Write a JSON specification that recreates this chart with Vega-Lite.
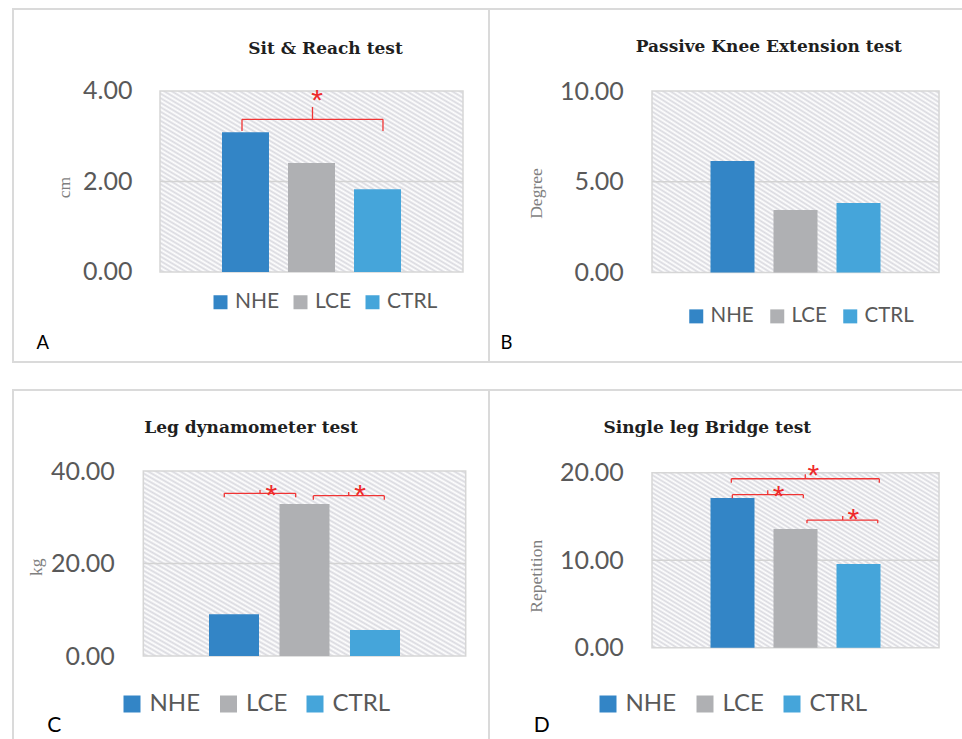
{
  "$schema": "https://vega.github.io/schema/vega-lite/v6.json",
  "background": "white",
  "padding": {"left": 12, "top": 8, "right": 0, "bottom": 0},
  "columns": 2,
  "spacing": {"row": 28, "column": 0},
  "bounds": "flush",
  "resolve": {"scale": {"color": "independent"}},
  "config": {"view": {"stroke": "#dadada", "strokeWidth": 2, "fill": "white"}, "font": "Lato"},
  "concat": [
    {
      "width": 476, "height": 353,
      "title": {"text": "Sit & Reach test", "font": "DejaVu Serif", "fontSize": 17, "fontWeight": "bold", "color": "#1f1f1f", "anchor": "middle", "frame": "group", "offset": 0, "baseline": "alphabetic", "dx": 74.5, "dy": 62},
      "resolve": {"scale": {"x": "independent"}},
      "encoding": {
        "y": {"field": "v", "type": "quantitative", "scale": {"domain": [-1.989, 5.812], "nice": false},
              "axis": {"values": [0, 2, 4], "format": ".2f", "ticks": false, "tickSize": 0, "domain": false, "grid": false, "labelPadding": 0, "offset": -119, "labelFont": "Lato", "labelFontSize": 25, "labelColor": "#595959", "labelAlign": "right", "labelBaseline": "middle",
                       "title": "cm", "titleFont": "Liberation Serif", "titleFontSize": 17.5, "titleFontWeight": "normal", "titleColor": "#7f7f7f", "titleAngle": 270, "titleX": -63, "titleY": 178, "titleAlign": "center", "titleBaseline": "alphabetic"}}
      },
      "layer": [
        {"data": {"values": [{"x1": -0.2955, "x2": 4.2955, "v": 0, "v2": 4}]},
         "mark": {"type": "rect", "stroke": "#d6d6d6", "strokeWidth": 1.5,
          "fill": {"gradient": "linear", "x1": 0, "y1": 1, "x2": 1, "y2": 0, "stops": [
          {"offset": 0, "color": "#ffffff"}, {"offset": 0.00625, "color": "#d9d9df"}, {"offset": 0.0125, "color": "#ffffff"}, {"offset": 0.01875, "color": "#d9d9df"},
          {"offset": 0.025, "color": "#ffffff"}, {"offset": 0.03125, "color": "#d9d9df"}, {"offset": 0.0375, "color": "#ffffff"}, {"offset": 0.04375, "color": "#d9d9df"},
          {"offset": 0.05, "color": "#ffffff"}, {"offset": 0.05625, "color": "#d9d9df"}, {"offset": 0.0625, "color": "#ffffff"}, {"offset": 0.06875, "color": "#d9d9df"},
          {"offset": 0.075, "color": "#ffffff"}, {"offset": 0.08125, "color": "#d9d9df"}, {"offset": 0.0875, "color": "#ffffff"}, {"offset": 0.09375, "color": "#d9d9df"},
          {"offset": 0.1, "color": "#ffffff"}, {"offset": 0.10625, "color": "#d9d9df"}, {"offset": 0.1125, "color": "#ffffff"}, {"offset": 0.11875, "color": "#d9d9df"},
          {"offset": 0.125, "color": "#ffffff"}, {"offset": 0.13125, "color": "#d9d9df"}, {"offset": 0.1375, "color": "#ffffff"}, {"offset": 0.14375, "color": "#d9d9df"},
          {"offset": 0.15, "color": "#ffffff"}, {"offset": 0.15625, "color": "#d9d9df"}, {"offset": 0.1625, "color": "#ffffff"}, {"offset": 0.16875, "color": "#d9d9df"},
          {"offset": 0.175, "color": "#ffffff"}, {"offset": 0.18125, "color": "#d9d9df"}, {"offset": 0.1875, "color": "#ffffff"}, {"offset": 0.19375, "color": "#d9d9df"},
          {"offset": 0.2, "color": "#ffffff"}, {"offset": 0.20625, "color": "#d9d9df"}, {"offset": 0.2125, "color": "#ffffff"}, {"offset": 0.21875, "color": "#d9d9df"},
          {"offset": 0.225, "color": "#ffffff"}, {"offset": 0.23125, "color": "#d9d9df"}, {"offset": 0.2375, "color": "#ffffff"}, {"offset": 0.24375, "color": "#d9d9df"},
          {"offset": 0.25, "color": "#ffffff"}, {"offset": 0.25625, "color": "#d9d9df"}, {"offset": 0.2625, "color": "#ffffff"}, {"offset": 0.26875, "color": "#d9d9df"},
          {"offset": 0.275, "color": "#ffffff"}, {"offset": 0.28125, "color": "#d9d9df"}, {"offset": 0.2875, "color": "#ffffff"}, {"offset": 0.29375, "color": "#d9d9df"},
          {"offset": 0.3, "color": "#ffffff"}, {"offset": 0.30625, "color": "#d9d9df"}, {"offset": 0.3125, "color": "#ffffff"}, {"offset": 0.31875, "color": "#d9d9df"},
          {"offset": 0.325, "color": "#ffffff"}, {"offset": 0.33125, "color": "#d9d9df"}, {"offset": 0.3375, "color": "#ffffff"}, {"offset": 0.34375, "color": "#d9d9df"},
          {"offset": 0.35, "color": "#ffffff"}, {"offset": 0.35625, "color": "#d9d9df"}, {"offset": 0.3625, "color": "#ffffff"}, {"offset": 0.36875, "color": "#d9d9df"},
          {"offset": 0.375, "color": "#ffffff"}, {"offset": 0.38125, "color": "#d9d9df"}, {"offset": 0.3875, "color": "#ffffff"}, {"offset": 0.39375, "color": "#d9d9df"},
          {"offset": 0.4, "color": "#ffffff"}, {"offset": 0.40625, "color": "#d9d9df"}, {"offset": 0.4125, "color": "#ffffff"}, {"offset": 0.41875, "color": "#d9d9df"},
          {"offset": 0.425, "color": "#ffffff"}, {"offset": 0.43125, "color": "#d9d9df"}, {"offset": 0.4375, "color": "#ffffff"}, {"offset": 0.44375, "color": "#d9d9df"},
          {"offset": 0.45, "color": "#ffffff"}, {"offset": 0.45625, "color": "#d9d9df"}, {"offset": 0.4625, "color": "#ffffff"}, {"offset": 0.46875, "color": "#d9d9df"},
          {"offset": 0.475, "color": "#ffffff"}, {"offset": 0.48125, "color": "#d9d9df"}, {"offset": 0.4875, "color": "#ffffff"}, {"offset": 0.49375, "color": "#d9d9df"},
          {"offset": 0.5, "color": "#ffffff"}, {"offset": 0.50625, "color": "#d9d9df"}, {"offset": 0.5125, "color": "#ffffff"}, {"offset": 0.51875, "color": "#d9d9df"},
          {"offset": 0.525, "color": "#ffffff"}, {"offset": 0.53125, "color": "#d9d9df"}, {"offset": 0.5375, "color": "#ffffff"}, {"offset": 0.54375, "color": "#d9d9df"},
          {"offset": 0.55, "color": "#ffffff"}, {"offset": 0.55625, "color": "#d9d9df"}, {"offset": 0.5625, "color": "#ffffff"}, {"offset": 0.56875, "color": "#d9d9df"},
          {"offset": 0.575, "color": "#ffffff"}, {"offset": 0.58125, "color": "#d9d9df"}, {"offset": 0.5875, "color": "#ffffff"}, {"offset": 0.59375, "color": "#d9d9df"},
          {"offset": 0.6, "color": "#ffffff"}, {"offset": 0.60625, "color": "#d9d9df"}, {"offset": 0.6125, "color": "#ffffff"}, {"offset": 0.61875, "color": "#d9d9df"},
          {"offset": 0.625, "color": "#ffffff"}, {"offset": 0.63125, "color": "#d9d9df"}, {"offset": 0.6375, "color": "#ffffff"}, {"offset": 0.64375, "color": "#d9d9df"},
          {"offset": 0.65, "color": "#ffffff"}, {"offset": 0.65625, "color": "#d9d9df"}, {"offset": 0.6625, "color": "#ffffff"}, {"offset": 0.66875, "color": "#d9d9df"},
          {"offset": 0.675, "color": "#ffffff"}, {"offset": 0.68125, "color": "#d9d9df"}, {"offset": 0.6875, "color": "#ffffff"}, {"offset": 0.69375, "color": "#d9d9df"},
          {"offset": 0.7, "color": "#ffffff"}, {"offset": 0.70625, "color": "#d9d9df"}, {"offset": 0.7125, "color": "#ffffff"}, {"offset": 0.71875, "color": "#d9d9df"},
          {"offset": 0.725, "color": "#ffffff"}, {"offset": 0.73125, "color": "#d9d9df"}, {"offset": 0.7375, "color": "#ffffff"}, {"offset": 0.74375, "color": "#d9d9df"},
          {"offset": 0.75, "color": "#ffffff"}, {"offset": 0.75625, "color": "#d9d9df"}, {"offset": 0.7625, "color": "#ffffff"}, {"offset": 0.76875, "color": "#d9d9df"},
          {"offset": 0.775, "color": "#ffffff"}, {"offset": 0.78125, "color": "#d9d9df"}, {"offset": 0.7875, "color": "#ffffff"}, {"offset": 0.79375, "color": "#d9d9df"},
          {"offset": 0.8, "color": "#ffffff"}, {"offset": 0.80625, "color": "#d9d9df"}, {"offset": 0.8125, "color": "#ffffff"}, {"offset": 0.81875, "color": "#d9d9df"},
          {"offset": 0.825, "color": "#ffffff"}, {"offset": 0.83125, "color": "#d9d9df"}, {"offset": 0.8375, "color": "#ffffff"}, {"offset": 0.84375, "color": "#d9d9df"},
          {"offset": 0.85, "color": "#ffffff"}, {"offset": 0.85625, "color": "#d9d9df"}, {"offset": 0.8625, "color": "#ffffff"}, {"offset": 0.86875, "color": "#d9d9df"},
          {"offset": 0.875, "color": "#ffffff"}, {"offset": 0.88125, "color": "#d9d9df"}, {"offset": 0.8875, "color": "#ffffff"}, {"offset": 0.89375, "color": "#d9d9df"},
          {"offset": 0.9, "color": "#ffffff"}, {"offset": 0.90625, "color": "#d9d9df"}, {"offset": 0.9125, "color": "#ffffff"}, {"offset": 0.91875, "color": "#d9d9df"},
          {"offset": 0.925, "color": "#ffffff"}, {"offset": 0.93125, "color": "#d9d9df"}, {"offset": 0.9375, "color": "#ffffff"}, {"offset": 0.94375, "color": "#d9d9df"},
          {"offset": 0.95, "color": "#ffffff"}, {"offset": 0.95625, "color": "#d9d9df"}, {"offset": 0.9625, "color": "#ffffff"}, {"offset": 0.96875, "color": "#d9d9df"},
          {"offset": 0.975, "color": "#ffffff"}, {"offset": 0.98125, "color": "#d9d9df"}, {"offset": 0.9875, "color": "#ffffff"}, {"offset": 0.99375, "color": "#d9d9df"},
          {"offset": 1, "color": "#ffffff"}]}},
         "encoding": {"x": {"field": "x1", "type": "quantitative", "scale": {"domain": [-2.5227, 4.6894], "nice": false, "zero": false}, "axis": null}, "x2": {"field": "x2"}, "y2": {"field": "v2"}}},
        {"data": {"values": [{"x1": -0.2955, "x2": 4.2955, "v": 2}]},
         "mark": {"type": "rule", "stroke": "#d3d3d3", "strokeWidth": 1.5},
         "encoding": {"x": {"field": "x1", "type": "quantitative", "scale": {"domain": [-2.5227, 4.6894], "nice": false, "zero": false}, "axis": null}, "x2": {"field": "x2"}}},
        {
          "data": {"values": [{"group": "NHE", "v": 3.09}, {"group": "LCE", "v": 2.41}, {"group": "CTRL", "v": 1.83}]},
          "mark": {"type": "bar"},
          "encoding": {
            "x": {"field": "group", "type": "nominal", "sort": ["NHE", "LCE", "CTRL"], "scale": {"range": [147, 450], "paddingInner": 0.2879, "paddingOuter": 0.939, "align": 0.5},
                  "axis": {"title": "A", "labels": false, "ticks": false, "domain": false, "grid": false, "titleX": 23, "titleY": -14, "titleAlign": "left", "titleBaseline": "alphabetic", "titleFont": "Lato", "titleFontSize": 18.5, "titleFontWeight": "normal", "titleColor": "#000000"}},
            "y2": {"datum": 0},
            "color": {"field": "group", "type": "nominal", "scale": {"domain": ["NHE", "LCE", "CTRL"], "range": ["#3385c6", "#afb0b3", "#45a5da"]},
                      "legend": {"orient": "none", "legendX": 197, "legendY": 282.5, "direction": "horizontal", "title": null, "symbolType": "square", "symbolSize": 196, "symbolStrokeWidth": 0, "labelFont": "Lato", "labelFontSize": 21, "labelColor": "#595959", "labelOffset": 4, "columnPadding": 10, "padding": 0}}
          }
        },
        {
          "data": {"values": [{"x1": 0.947, "x2": 3.083, "xm": 2.015, "v": 3.375, "vEnd": 3.116, "vTop": 3.646}]},
          "layer": [
            {"mark": {"type": "rule", "stroke": "#f03434", "strokeWidth": 1.3},
             "encoding": {"x": {"field": "x1", "type": "quantitative", "scale": {"domain": [-2.5227, 4.6894], "nice": false, "zero": false}, "axis": null}, "x2": {"field": "x2"}}},
            {"mark": {"type": "rule", "stroke": "#f03434", "strokeWidth": 1.3},
             "encoding": {"x": {"field": "x1", "type": "quantitative", "scale": {"domain": [-2.5227, 4.6894], "nice": false, "zero": false}, "axis": null}, "y2": {"field": "vEnd"}}},
            {"mark": {"type": "rule", "stroke": "#f03434", "strokeWidth": 1.3},
             "encoding": {"x": {"field": "x2", "type": "quantitative", "scale": {"domain": [-2.5227, 4.6894], "nice": false, "zero": false}, "axis": null}, "y2": {"field": "vEnd"}}},
            {"mark": {"type": "rule", "stroke": "#f03434", "strokeWidth": 1.3},
             "encoding": {"x": {"field": "xm", "type": "quantitative", "scale": {"domain": [-2.5227, 4.6894], "nice": false, "zero": false}, "axis": null}, "y2": {"field": "vTop"}}}
          ]
        },
        {
          "data": {"values": [{"sx": 2.083, "v": 3.576, "label": "*"}]},
          "mark": {"type": "text", "font": "Liberation Sans", "fontSize": 30, "fill": "#ee2a2a", "align": "center", "baseline": "alphabetic"},
          "encoding": {"x": {"field": "sx", "type": "quantitative", "scale": {"domain": [-2.5227, 4.6894], "nice": false, "zero": false}, "axis": null}, "text": {"field": "label"}}
        }
      ]
    },
    {
      "width": 476, "height": 353,
      "title": {"text": "Passive Knee Extension test", "font": "DejaVu Serif", "fontSize": 17, "fontWeight": "bold", "color": "#1f1f1f", "anchor": "middle", "frame": "group", "offset": 0, "baseline": "alphabetic", "dx": 41.8, "dy": 60},
      "resolve": {"scale": {"x": "independent"}},
      "encoding": {
        "y": {"field": "v", "type": "quantitative", "scale": {"domain": [-4.931, 14.518], "nice": false},
              "axis": {"values": [0, 5, 10], "format": ".2f", "ticks": false, "tickSize": 0, "domain": false, "grid": false, "labelPadding": 0, "offset": -134.3, "labelFont": "Lato", "labelFontSize": 25, "labelColor": "#595959", "labelAlign": "right", "labelBaseline": "middle",
                       "title": "Degree", "titleFont": "Liberation Serif", "titleFontSize": 17.5, "titleFontWeight": "normal", "titleColor": "#7f7f7f", "titleAngle": 270, "titleX": -82.1, "titleY": 184, "titleAlign": "center", "titleBaseline": "alphabetic"}}
      },
      "layer": [
        {"data": {"values": [{"x1": -0.27, "x2": 4.286, "v": 0, "v2": 10}]},
         "mark": {"type": "rect", "stroke": "#d6d6d6", "strokeWidth": 1.5,
          "fill": {"gradient": "linear", "x1": 0, "y1": 1, "x2": 1, "y2": 0, "stops": [
          {"offset": 0, "color": "#ffffff"}, {"offset": 0.00625, "color": "#d9d9df"}, {"offset": 0.0125, "color": "#ffffff"}, {"offset": 0.01875, "color": "#d9d9df"},
          {"offset": 0.025, "color": "#ffffff"}, {"offset": 0.03125, "color": "#d9d9df"}, {"offset": 0.0375, "color": "#ffffff"}, {"offset": 0.04375, "color": "#d9d9df"},
          {"offset": 0.05, "color": "#ffffff"}, {"offset": 0.05625, "color": "#d9d9df"}, {"offset": 0.0625, "color": "#ffffff"}, {"offset": 0.06875, "color": "#d9d9df"},
          {"offset": 0.075, "color": "#ffffff"}, {"offset": 0.08125, "color": "#d9d9df"}, {"offset": 0.0875, "color": "#ffffff"}, {"offset": 0.09375, "color": "#d9d9df"},
          {"offset": 0.1, "color": "#ffffff"}, {"offset": 0.10625, "color": "#d9d9df"}, {"offset": 0.1125, "color": "#ffffff"}, {"offset": 0.11875, "color": "#d9d9df"},
          {"offset": 0.125, "color": "#ffffff"}, {"offset": 0.13125, "color": "#d9d9df"}, {"offset": 0.1375, "color": "#ffffff"}, {"offset": 0.14375, "color": "#d9d9df"},
          {"offset": 0.15, "color": "#ffffff"}, {"offset": 0.15625, "color": "#d9d9df"}, {"offset": 0.1625, "color": "#ffffff"}, {"offset": 0.16875, "color": "#d9d9df"},
          {"offset": 0.175, "color": "#ffffff"}, {"offset": 0.18125, "color": "#d9d9df"}, {"offset": 0.1875, "color": "#ffffff"}, {"offset": 0.19375, "color": "#d9d9df"},
          {"offset": 0.2, "color": "#ffffff"}, {"offset": 0.20625, "color": "#d9d9df"}, {"offset": 0.2125, "color": "#ffffff"}, {"offset": 0.21875, "color": "#d9d9df"},
          {"offset": 0.225, "color": "#ffffff"}, {"offset": 0.23125, "color": "#d9d9df"}, {"offset": 0.2375, "color": "#ffffff"}, {"offset": 0.24375, "color": "#d9d9df"},
          {"offset": 0.25, "color": "#ffffff"}, {"offset": 0.25625, "color": "#d9d9df"}, {"offset": 0.2625, "color": "#ffffff"}, {"offset": 0.26875, "color": "#d9d9df"},
          {"offset": 0.275, "color": "#ffffff"}, {"offset": 0.28125, "color": "#d9d9df"}, {"offset": 0.2875, "color": "#ffffff"}, {"offset": 0.29375, "color": "#d9d9df"},
          {"offset": 0.3, "color": "#ffffff"}, {"offset": 0.30625, "color": "#d9d9df"}, {"offset": 0.3125, "color": "#ffffff"}, {"offset": 0.31875, "color": "#d9d9df"},
          {"offset": 0.325, "color": "#ffffff"}, {"offset": 0.33125, "color": "#d9d9df"}, {"offset": 0.3375, "color": "#ffffff"}, {"offset": 0.34375, "color": "#d9d9df"},
          {"offset": 0.35, "color": "#ffffff"}, {"offset": 0.35625, "color": "#d9d9df"}, {"offset": 0.3625, "color": "#ffffff"}, {"offset": 0.36875, "color": "#d9d9df"},
          {"offset": 0.375, "color": "#ffffff"}, {"offset": 0.38125, "color": "#d9d9df"}, {"offset": 0.3875, "color": "#ffffff"}, {"offset": 0.39375, "color": "#d9d9df"},
          {"offset": 0.4, "color": "#ffffff"}, {"offset": 0.40625, "color": "#d9d9df"}, {"offset": 0.4125, "color": "#ffffff"}, {"offset": 0.41875, "color": "#d9d9df"},
          {"offset": 0.425, "color": "#ffffff"}, {"offset": 0.43125, "color": "#d9d9df"}, {"offset": 0.4375, "color": "#ffffff"}, {"offset": 0.44375, "color": "#d9d9df"},
          {"offset": 0.45, "color": "#ffffff"}, {"offset": 0.45625, "color": "#d9d9df"}, {"offset": 0.4625, "color": "#ffffff"}, {"offset": 0.46875, "color": "#d9d9df"},
          {"offset": 0.475, "color": "#ffffff"}, {"offset": 0.48125, "color": "#d9d9df"}, {"offset": 0.4875, "color": "#ffffff"}, {"offset": 0.49375, "color": "#d9d9df"},
          {"offset": 0.5, "color": "#ffffff"}, {"offset": 0.50625, "color": "#d9d9df"}, {"offset": 0.5125, "color": "#ffffff"}, {"offset": 0.51875, "color": "#d9d9df"},
          {"offset": 0.525, "color": "#ffffff"}, {"offset": 0.53125, "color": "#d9d9df"}, {"offset": 0.5375, "color": "#ffffff"}, {"offset": 0.54375, "color": "#d9d9df"},
          {"offset": 0.55, "color": "#ffffff"}, {"offset": 0.55625, "color": "#d9d9df"}, {"offset": 0.5625, "color": "#ffffff"}, {"offset": 0.56875, "color": "#d9d9df"},
          {"offset": 0.575, "color": "#ffffff"}, {"offset": 0.58125, "color": "#d9d9df"}, {"offset": 0.5875, "color": "#ffffff"}, {"offset": 0.59375, "color": "#d9d9df"},
          {"offset": 0.6, "color": "#ffffff"}, {"offset": 0.60625, "color": "#d9d9df"}, {"offset": 0.6125, "color": "#ffffff"}, {"offset": 0.61875, "color": "#d9d9df"},
          {"offset": 0.625, "color": "#ffffff"}, {"offset": 0.63125, "color": "#d9d9df"}, {"offset": 0.6375, "color": "#ffffff"}, {"offset": 0.64375, "color": "#d9d9df"},
          {"offset": 0.65, "color": "#ffffff"}, {"offset": 0.65625, "color": "#d9d9df"}, {"offset": 0.6625, "color": "#ffffff"}, {"offset": 0.66875, "color": "#d9d9df"},
          {"offset": 0.675, "color": "#ffffff"}, {"offset": 0.68125, "color": "#d9d9df"}, {"offset": 0.6875, "color": "#ffffff"}, {"offset": 0.69375, "color": "#d9d9df"},
          {"offset": 0.7, "color": "#ffffff"}, {"offset": 0.70625, "color": "#d9d9df"}, {"offset": 0.7125, "color": "#ffffff"}, {"offset": 0.71875, "color": "#d9d9df"},
          {"offset": 0.725, "color": "#ffffff"}, {"offset": 0.73125, "color": "#d9d9df"}, {"offset": 0.7375, "color": "#ffffff"}, {"offset": 0.74375, "color": "#d9d9df"},
          {"offset": 0.75, "color": "#ffffff"}, {"offset": 0.75625, "color": "#d9d9df"}, {"offset": 0.7625, "color": "#ffffff"}, {"offset": 0.76875, "color": "#d9d9df"},
          {"offset": 0.775, "color": "#ffffff"}, {"offset": 0.78125, "color": "#d9d9df"}, {"offset": 0.7875, "color": "#ffffff"}, {"offset": 0.79375, "color": "#d9d9df"},
          {"offset": 0.8, "color": "#ffffff"}, {"offset": 0.80625, "color": "#d9d9df"}, {"offset": 0.8125, "color": "#ffffff"}, {"offset": 0.81875, "color": "#d9d9df"},
          {"offset": 0.825, "color": "#ffffff"}, {"offset": 0.83125, "color": "#d9d9df"}, {"offset": 0.8375, "color": "#ffffff"}, {"offset": 0.84375, "color": "#d9d9df"},
          {"offset": 0.85, "color": "#ffffff"}, {"offset": 0.85625, "color": "#d9d9df"}, {"offset": 0.8625, "color": "#ffffff"}, {"offset": 0.86875, "color": "#d9d9df"},
          {"offset": 0.875, "color": "#ffffff"}, {"offset": 0.88125, "color": "#d9d9df"}, {"offset": 0.8875, "color": "#ffffff"}, {"offset": 0.89375, "color": "#d9d9df"},
          {"offset": 0.9, "color": "#ffffff"}, {"offset": 0.90625, "color": "#d9d9df"}, {"offset": 0.9125, "color": "#ffffff"}, {"offset": 0.91875, "color": "#d9d9df"},
          {"offset": 0.925, "color": "#ffffff"}, {"offset": 0.93125, "color": "#d9d9df"}, {"offset": 0.9375, "color": "#ffffff"}, {"offset": 0.94375, "color": "#d9d9df"},
          {"offset": 0.95, "color": "#ffffff"}, {"offset": 0.95625, "color": "#d9d9df"}, {"offset": 0.9625, "color": "#ffffff"}, {"offset": 0.96875, "color": "#d9d9df"},
          {"offset": 0.975, "color": "#ffffff"}, {"offset": 0.98125, "color": "#d9d9df"}, {"offset": 0.9875, "color": "#ffffff"}, {"offset": 0.99375, "color": "#d9d9df"},
          {"offset": 1, "color": "#ffffff"}]}},
         "encoding": {"x": {"field": "x1", "type": "quantitative", "scale": {"domain": [-2.857, 4.698], "nice": false, "zero": false}, "axis": null}, "x2": {"field": "x2"}, "y2": {"field": "v2"}}},
        {"data": {"values": [{"x1": -0.27, "x2": 4.286, "v": 5}]},
         "mark": {"type": "rule", "stroke": "#d3d3d3", "strokeWidth": 1.5},
         "encoding": {"x": {"field": "x1", "type": "quantitative", "scale": {"domain": [-2.857, 4.698], "nice": false, "zero": false}, "axis": null}, "x2": {"field": "x2"}}},
        {
          "data": {"values": [{"group": "NHE", "v": 6.14}, {"group": "LCE", "v": 3.44}, {"group": "CTRL", "v": 3.83}]},
          "mark": {"type": "bar"},
          "encoding": {
            "x": {"field": "group", "type": "nominal", "sort": ["NHE", "LCE", "CTRL"], "scale": {"range": [163, 450], "paddingInner": 0.3016, "paddingOuter": 0.9286, "align": 0.5},
                  "axis": {"title": "B", "labels": false, "ticks": false, "domain": false, "grid": false, "titleX": 11, "titleY": -14, "titleAlign": "left", "titleBaseline": "alphabetic", "titleFont": "Lato", "titleFontSize": 18.5, "titleFontWeight": "normal", "titleColor": "#000000"}},
            "y2": {"datum": 0},
            "color": {"field": "group", "type": "nominal", "scale": {"domain": ["NHE", "LCE", "CTRL"], "range": ["#3385c6", "#afb0b3", "#45a5da"]},
                      "legend": {"orient": "none", "legendX": 197, "legendY": 297, "direction": "horizontal", "title": null, "symbolType": "square", "symbolSize": 196, "symbolStrokeWidth": 0, "labelFont": "Lato", "labelFontSize": 20.5, "labelColor": "#595959", "labelOffset": 4, "columnPadding": 13, "padding": 0}}
          }
        }
      ]
    },
    {
      "width": 476, "height": 353,
      "title": {"text": "Leg dynamometer test", "font": "DejaVu Serif", "fontSize": 17, "fontWeight": "bold", "color": "#1f1f1f", "anchor": "middle", "frame": "group", "offset": 0, "baseline": "alphabetic", "dx": 0, "dy": 60},
      "resolve": {"scale": {"x": "independent"}},
      "encoding": {
        "y": {"field": "v", "type": "quantitative", "scale": {"domain": [-18.81, 57.514], "nice": false},
              "axis": {"values": [0, 20, 40], "format": ".2f", "ticks": false, "tickSize": 0, "domain": false, "grid": false, "labelPadding": 0, "offset": -101.3, "labelFont": "Lato", "labelFontSize": 25, "labelColor": "#595959", "labelAlign": "right", "labelBaseline": "middle",
                       "title": "kg", "titleFont": "Liberation Serif", "titleFontSize": 17.5, "titleFontWeight": "normal", "titleColor": "#7f7f7f", "titleAngle": 270, "titleX": -73, "titleY": 176.7, "titleAlign": "center", "titleBaseline": "alphabetic"}}
      },
      "layer": [
        {"data": {"values": [{"x1": -0.2865, "x2": 4.2865, "v": 0, "v2": 40}]},
         "mark": {"type": "rect", "stroke": "#d6d6d6", "strokeWidth": 1.5,
          "fill": {"gradient": "linear", "x1": 0, "y1": 1, "x2": 1, "y2": 0, "stops": [
          {"offset": 0, "color": "#ffffff"}, {"offset": 0.00625, "color": "#d9d9df"}, {"offset": 0.0125, "color": "#ffffff"}, {"offset": 0.01875, "color": "#d9d9df"},
          {"offset": 0.025, "color": "#ffffff"}, {"offset": 0.03125, "color": "#d9d9df"}, {"offset": 0.0375, "color": "#ffffff"}, {"offset": 0.04375, "color": "#d9d9df"},
          {"offset": 0.05, "color": "#ffffff"}, {"offset": 0.05625, "color": "#d9d9df"}, {"offset": 0.0625, "color": "#ffffff"}, {"offset": 0.06875, "color": "#d9d9df"},
          {"offset": 0.075, "color": "#ffffff"}, {"offset": 0.08125, "color": "#d9d9df"}, {"offset": 0.0875, "color": "#ffffff"}, {"offset": 0.09375, "color": "#d9d9df"},
          {"offset": 0.1, "color": "#ffffff"}, {"offset": 0.10625, "color": "#d9d9df"}, {"offset": 0.1125, "color": "#ffffff"}, {"offset": 0.11875, "color": "#d9d9df"},
          {"offset": 0.125, "color": "#ffffff"}, {"offset": 0.13125, "color": "#d9d9df"}, {"offset": 0.1375, "color": "#ffffff"}, {"offset": 0.14375, "color": "#d9d9df"},
          {"offset": 0.15, "color": "#ffffff"}, {"offset": 0.15625, "color": "#d9d9df"}, {"offset": 0.1625, "color": "#ffffff"}, {"offset": 0.16875, "color": "#d9d9df"},
          {"offset": 0.175, "color": "#ffffff"}, {"offset": 0.18125, "color": "#d9d9df"}, {"offset": 0.1875, "color": "#ffffff"}, {"offset": 0.19375, "color": "#d9d9df"},
          {"offset": 0.2, "color": "#ffffff"}, {"offset": 0.20625, "color": "#d9d9df"}, {"offset": 0.2125, "color": "#ffffff"}, {"offset": 0.21875, "color": "#d9d9df"},
          {"offset": 0.225, "color": "#ffffff"}, {"offset": 0.23125, "color": "#d9d9df"}, {"offset": 0.2375, "color": "#ffffff"}, {"offset": 0.24375, "color": "#d9d9df"},
          {"offset": 0.25, "color": "#ffffff"}, {"offset": 0.25625, "color": "#d9d9df"}, {"offset": 0.2625, "color": "#ffffff"}, {"offset": 0.26875, "color": "#d9d9df"},
          {"offset": 0.275, "color": "#ffffff"}, {"offset": 0.28125, "color": "#d9d9df"}, {"offset": 0.2875, "color": "#ffffff"}, {"offset": 0.29375, "color": "#d9d9df"},
          {"offset": 0.3, "color": "#ffffff"}, {"offset": 0.30625, "color": "#d9d9df"}, {"offset": 0.3125, "color": "#ffffff"}, {"offset": 0.31875, "color": "#d9d9df"},
          {"offset": 0.325, "color": "#ffffff"}, {"offset": 0.33125, "color": "#d9d9df"}, {"offset": 0.3375, "color": "#ffffff"}, {"offset": 0.34375, "color": "#d9d9df"},
          {"offset": 0.35, "color": "#ffffff"}, {"offset": 0.35625, "color": "#d9d9df"}, {"offset": 0.3625, "color": "#ffffff"}, {"offset": 0.36875, "color": "#d9d9df"},
          {"offset": 0.375, "color": "#ffffff"}, {"offset": 0.38125, "color": "#d9d9df"}, {"offset": 0.3875, "color": "#ffffff"}, {"offset": 0.39375, "color": "#d9d9df"},
          {"offset": 0.4, "color": "#ffffff"}, {"offset": 0.40625, "color": "#d9d9df"}, {"offset": 0.4125, "color": "#ffffff"}, {"offset": 0.41875, "color": "#d9d9df"},
          {"offset": 0.425, "color": "#ffffff"}, {"offset": 0.43125, "color": "#d9d9df"}, {"offset": 0.4375, "color": "#ffffff"}, {"offset": 0.44375, "color": "#d9d9df"},
          {"offset": 0.45, "color": "#ffffff"}, {"offset": 0.45625, "color": "#d9d9df"}, {"offset": 0.4625, "color": "#ffffff"}, {"offset": 0.46875, "color": "#d9d9df"},
          {"offset": 0.475, "color": "#ffffff"}, {"offset": 0.48125, "color": "#d9d9df"}, {"offset": 0.4875, "color": "#ffffff"}, {"offset": 0.49375, "color": "#d9d9df"},
          {"offset": 0.5, "color": "#ffffff"}, {"offset": 0.50625, "color": "#d9d9df"}, {"offset": 0.5125, "color": "#ffffff"}, {"offset": 0.51875, "color": "#d9d9df"},
          {"offset": 0.525, "color": "#ffffff"}, {"offset": 0.53125, "color": "#d9d9df"}, {"offset": 0.5375, "color": "#ffffff"}, {"offset": 0.54375, "color": "#d9d9df"},
          {"offset": 0.55, "color": "#ffffff"}, {"offset": 0.55625, "color": "#d9d9df"}, {"offset": 0.5625, "color": "#ffffff"}, {"offset": 0.56875, "color": "#d9d9df"},
          {"offset": 0.575, "color": "#ffffff"}, {"offset": 0.58125, "color": "#d9d9df"}, {"offset": 0.5875, "color": "#ffffff"}, {"offset": 0.59375, "color": "#d9d9df"},
          {"offset": 0.6, "color": "#ffffff"}, {"offset": 0.60625, "color": "#d9d9df"}, {"offset": 0.6125, "color": "#ffffff"}, {"offset": 0.61875, "color": "#d9d9df"},
          {"offset": 0.625, "color": "#ffffff"}, {"offset": 0.63125, "color": "#d9d9df"}, {"offset": 0.6375, "color": "#ffffff"}, {"offset": 0.64375, "color": "#d9d9df"},
          {"offset": 0.65, "color": "#ffffff"}, {"offset": 0.65625, "color": "#d9d9df"}, {"offset": 0.6625, "color": "#ffffff"}, {"offset": 0.66875, "color": "#d9d9df"},
          {"offset": 0.675, "color": "#ffffff"}, {"offset": 0.68125, "color": "#d9d9df"}, {"offset": 0.6875, "color": "#ffffff"}, {"offset": 0.69375, "color": "#d9d9df"},
          {"offset": 0.7, "color": "#ffffff"}, {"offset": 0.70625, "color": "#d9d9df"}, {"offset": 0.7125, "color": "#ffffff"}, {"offset": 0.71875, "color": "#d9d9df"},
          {"offset": 0.725, "color": "#ffffff"}, {"offset": 0.73125, "color": "#d9d9df"}, {"offset": 0.7375, "color": "#ffffff"}, {"offset": 0.74375, "color": "#d9d9df"},
          {"offset": 0.75, "color": "#ffffff"}, {"offset": 0.75625, "color": "#d9d9df"}, {"offset": 0.7625, "color": "#ffffff"}, {"offset": 0.76875, "color": "#d9d9df"},
          {"offset": 0.775, "color": "#ffffff"}, {"offset": 0.78125, "color": "#d9d9df"}, {"offset": 0.7875, "color": "#ffffff"}, {"offset": 0.79375, "color": "#d9d9df"},
          {"offset": 0.8, "color": "#ffffff"}, {"offset": 0.80625, "color": "#d9d9df"}, {"offset": 0.8125, "color": "#ffffff"}, {"offset": 0.81875, "color": "#d9d9df"},
          {"offset": 0.825, "color": "#ffffff"}, {"offset": 0.83125, "color": "#d9d9df"}, {"offset": 0.8375, "color": "#ffffff"}, {"offset": 0.84375, "color": "#d9d9df"},
          {"offset": 0.85, "color": "#ffffff"}, {"offset": 0.85625, "color": "#d9d9df"}, {"offset": 0.8625, "color": "#ffffff"}, {"offset": 0.86875, "color": "#d9d9df"},
          {"offset": 0.875, "color": "#ffffff"}, {"offset": 0.88125, "color": "#d9d9df"}, {"offset": 0.8875, "color": "#ffffff"}, {"offset": 0.89375, "color": "#d9d9df"},
          {"offset": 0.9, "color": "#ffffff"}, {"offset": 0.90625, "color": "#d9d9df"}, {"offset": 0.9125, "color": "#ffffff"}, {"offset": 0.91875, "color": "#d9d9df"},
          {"offset": 0.925, "color": "#ffffff"}, {"offset": 0.93125, "color": "#d9d9df"}, {"offset": 0.9375, "color": "#ffffff"}, {"offset": 0.94375, "color": "#d9d9df"},
          {"offset": 0.95, "color": "#ffffff"}, {"offset": 0.95625, "color": "#d9d9df"}, {"offset": 0.9625, "color": "#ffffff"}, {"offset": 0.96875, "color": "#d9d9df"},
          {"offset": 0.975, "color": "#ffffff"}, {"offset": 0.98125, "color": "#d9d9df"}, {"offset": 0.9875, "color": "#ffffff"}, {"offset": 0.99375, "color": "#d9d9df"},
          {"offset": 1, "color": "#ffffff"}]}},
         "encoding": {"x": {"field": "x1", "type": "quantitative", "scale": {"domain": [-2.1348, 4.617], "nice": false, "zero": false}, "axis": null}, "x2": {"field": "x2"}, "y2": {"field": "v2"}}},
        {"data": {"values": [{"x1": -0.2865, "x2": 4.2865, "v": 20}]},
         "mark": {"type": "rule", "stroke": "#d3d3d3", "strokeWidth": 1.5},
         "encoding": {"x": {"field": "x1", "type": "quantitative", "scale": {"domain": [-2.1348, 4.617], "nice": false, "zero": false}, "axis": null}, "x2": {"field": "x2"}}},
        {
          "data": {"values": [{"group": "NHE", "v": 9.02}, {"group": "LCE", "v": 32.86}, {"group": "CTRL", "v": 5.62}]},
          "mark": {"type": "bar"},
          "encoding": {
            "x": {"field": "group", "type": "nominal", "sort": ["NHE", "LCE", "CTRL"], "scale": {"range": [130.3, 452.7], "paddingInner": 0.2908, "paddingOuter": 0.932, "align": 0.5},
                  "axis": {"title": "C", "labels": false, "ticks": false, "domain": false, "grid": false, "titleX": 33.7, "titleY": -11.3, "titleAlign": "left", "titleBaseline": "alphabetic", "titleFont": "Lato", "titleFontSize": 21, "titleFontWeight": "normal", "titleColor": "#000000"}},
            "y2": {"datum": 0},
            "color": {"field": "group", "type": "nominal", "scale": {"domain": ["NHE", "LCE", "CTRL"], "range": ["#3385c6", "#afb0b3", "#45a5da"]},
                      "legend": {"orient": "none", "legendX": 107, "legendY": 302, "direction": "horizontal", "title": null, "symbolType": "square", "symbolSize": 289, "symbolStrokeWidth": 0, "labelFont": "Lato", "labelFontSize": 24, "labelColor": "#595959", "labelOffset": 5.5, "columnPadding": 15.5, "padding": 0}}
          }
        },
        {
          "data": {"values": [{"x1": 0.862, "x2": 1.875, "xm": 1.369, "v": 35.18, "vEnd": 34.31, "vTop": 35.89}, {"x1": 2.125, "x2": 3.132, "xm": 2.627, "v": 34.66, "vEnd": 33.79, "vTop": 35.46}]},
          "layer": [
            {"mark": {"type": "rule", "stroke": "#f03434", "strokeWidth": 1.3},
             "encoding": {"x": {"field": "x1", "type": "quantitative", "scale": {"domain": [-2.1348, 4.617], "nice": false, "zero": false}, "axis": null}, "x2": {"field": "x2"}}},
            {"mark": {"type": "rule", "stroke": "#f03434", "strokeWidth": 1.3},
             "encoding": {"x": {"field": "x1", "type": "quantitative", "scale": {"domain": [-2.1348, 4.617], "nice": false, "zero": false}, "axis": null}, "y2": {"field": "vEnd"}}},
            {"mark": {"type": "rule", "stroke": "#f03434", "strokeWidth": 1.3},
             "encoding": {"x": {"field": "x2", "type": "quantitative", "scale": {"domain": [-2.1348, 4.617], "nice": false, "zero": false}, "axis": null}, "y2": {"field": "vEnd"}}},
            {"mark": {"type": "rule", "stroke": "#f03434", "strokeWidth": 1.3},
             "encoding": {"x": {"field": "xm", "type": "quantitative", "scale": {"domain": [-2.1348, 4.617], "nice": false, "zero": false}, "axis": null}, "y2": {"field": "vTop"}}}
          ]
        },
        {
          "data": {"values": [{"sx": 1.529, "v": 32.61, "label": "*"}, {"sx": 2.787, "v": 32.69, "label": "*"}]},
          "mark": {"type": "text", "font": "Liberation Sans", "fontSize": 30, "fill": "#ee2a2a", "align": "center", "baseline": "alphabetic"},
          "encoding": {"x": {"field": "sx", "type": "quantitative", "scale": {"domain": [-2.1348, 4.617], "nice": false, "zero": false}, "axis": null}, "text": {"field": "label"}}
        }
      ]
    },
    {
      "width": 476, "height": 353,
      "title": {"text": "Single leg Bridge test", "font": "DejaVu Serif", "fontSize": 17, "fontWeight": "bold", "color": "#1f1f1f", "anchor": "middle", "frame": "group", "offset": 0, "baseline": "alphabetic", "dx": -19.7, "dy": 60},
      "resolve": {"scale": {"x": "independent"}},
      "encoding": {
        "y": {"field": "v", "type": "quantitative", "scale": {"domain": [-10.891, 29.451], "nice": false},
              "axis": {"values": [0, 10, 20], "format": ".2f", "ticks": false, "tickSize": 0, "domain": false, "grid": false, "labelPadding": 0, "offset": -134.3, "labelFont": "Lato", "labelFontSize": 25, "labelColor": "#595959", "labelAlign": "right", "labelBaseline": "middle",
                       "title": "Repetition", "titleFont": "Liberation Serif", "titleFontSize": 17.5, "titleFontWeight": "normal", "titleColor": "#7f7f7f", "titleAngle": 270, "titleX": -82, "titleY": 185.8, "titleAlign": "center", "titleBaseline": "alphabetic"}}
      },
      "layer": [
        {"data": {"values": [{"x1": -0.27, "x2": 4.286, "v": 0, "v2": 20}]},
         "mark": {"type": "rect", "stroke": "#d6d6d6", "strokeWidth": 1.5,
          "fill": {"gradient": "linear", "x1": 0, "y1": 1, "x2": 1, "y2": 0, "stops": [
          {"offset": 0, "color": "#ffffff"}, {"offset": 0.00625, "color": "#d9d9df"}, {"offset": 0.0125, "color": "#ffffff"}, {"offset": 0.01875, "color": "#d9d9df"},
          {"offset": 0.025, "color": "#ffffff"}, {"offset": 0.03125, "color": "#d9d9df"}, {"offset": 0.0375, "color": "#ffffff"}, {"offset": 0.04375, "color": "#d9d9df"},
          {"offset": 0.05, "color": "#ffffff"}, {"offset": 0.05625, "color": "#d9d9df"}, {"offset": 0.0625, "color": "#ffffff"}, {"offset": 0.06875, "color": "#d9d9df"},
          {"offset": 0.075, "color": "#ffffff"}, {"offset": 0.08125, "color": "#d9d9df"}, {"offset": 0.0875, "color": "#ffffff"}, {"offset": 0.09375, "color": "#d9d9df"},
          {"offset": 0.1, "color": "#ffffff"}, {"offset": 0.10625, "color": "#d9d9df"}, {"offset": 0.1125, "color": "#ffffff"}, {"offset": 0.11875, "color": "#d9d9df"},
          {"offset": 0.125, "color": "#ffffff"}, {"offset": 0.13125, "color": "#d9d9df"}, {"offset": 0.1375, "color": "#ffffff"}, {"offset": 0.14375, "color": "#d9d9df"},
          {"offset": 0.15, "color": "#ffffff"}, {"offset": 0.15625, "color": "#d9d9df"}, {"offset": 0.1625, "color": "#ffffff"}, {"offset": 0.16875, "color": "#d9d9df"},
          {"offset": 0.175, "color": "#ffffff"}, {"offset": 0.18125, "color": "#d9d9df"}, {"offset": 0.1875, "color": "#ffffff"}, {"offset": 0.19375, "color": "#d9d9df"},
          {"offset": 0.2, "color": "#ffffff"}, {"offset": 0.20625, "color": "#d9d9df"}, {"offset": 0.2125, "color": "#ffffff"}, {"offset": 0.21875, "color": "#d9d9df"},
          {"offset": 0.225, "color": "#ffffff"}, {"offset": 0.23125, "color": "#d9d9df"}, {"offset": 0.2375, "color": "#ffffff"}, {"offset": 0.24375, "color": "#d9d9df"},
          {"offset": 0.25, "color": "#ffffff"}, {"offset": 0.25625, "color": "#d9d9df"}, {"offset": 0.2625, "color": "#ffffff"}, {"offset": 0.26875, "color": "#d9d9df"},
          {"offset": 0.275, "color": "#ffffff"}, {"offset": 0.28125, "color": "#d9d9df"}, {"offset": 0.2875, "color": "#ffffff"}, {"offset": 0.29375, "color": "#d9d9df"},
          {"offset": 0.3, "color": "#ffffff"}, {"offset": 0.30625, "color": "#d9d9df"}, {"offset": 0.3125, "color": "#ffffff"}, {"offset": 0.31875, "color": "#d9d9df"},
          {"offset": 0.325, "color": "#ffffff"}, {"offset": 0.33125, "color": "#d9d9df"}, {"offset": 0.3375, "color": "#ffffff"}, {"offset": 0.34375, "color": "#d9d9df"},
          {"offset": 0.35, "color": "#ffffff"}, {"offset": 0.35625, "color": "#d9d9df"}, {"offset": 0.3625, "color": "#ffffff"}, {"offset": 0.36875, "color": "#d9d9df"},
          {"offset": 0.375, "color": "#ffffff"}, {"offset": 0.38125, "color": "#d9d9df"}, {"offset": 0.3875, "color": "#ffffff"}, {"offset": 0.39375, "color": "#d9d9df"},
          {"offset": 0.4, "color": "#ffffff"}, {"offset": 0.40625, "color": "#d9d9df"}, {"offset": 0.4125, "color": "#ffffff"}, {"offset": 0.41875, "color": "#d9d9df"},
          {"offset": 0.425, "color": "#ffffff"}, {"offset": 0.43125, "color": "#d9d9df"}, {"offset": 0.4375, "color": "#ffffff"}, {"offset": 0.44375, "color": "#d9d9df"},
          {"offset": 0.45, "color": "#ffffff"}, {"offset": 0.45625, "color": "#d9d9df"}, {"offset": 0.4625, "color": "#ffffff"}, {"offset": 0.46875, "color": "#d9d9df"},
          {"offset": 0.475, "color": "#ffffff"}, {"offset": 0.48125, "color": "#d9d9df"}, {"offset": 0.4875, "color": "#ffffff"}, {"offset": 0.49375, "color": "#d9d9df"},
          {"offset": 0.5, "color": "#ffffff"}, {"offset": 0.50625, "color": "#d9d9df"}, {"offset": 0.5125, "color": "#ffffff"}, {"offset": 0.51875, "color": "#d9d9df"},
          {"offset": 0.525, "color": "#ffffff"}, {"offset": 0.53125, "color": "#d9d9df"}, {"offset": 0.5375, "color": "#ffffff"}, {"offset": 0.54375, "color": "#d9d9df"},
          {"offset": 0.55, "color": "#ffffff"}, {"offset": 0.55625, "color": "#d9d9df"}, {"offset": 0.5625, "color": "#ffffff"}, {"offset": 0.56875, "color": "#d9d9df"},
          {"offset": 0.575, "color": "#ffffff"}, {"offset": 0.58125, "color": "#d9d9df"}, {"offset": 0.5875, "color": "#ffffff"}, {"offset": 0.59375, "color": "#d9d9df"},
          {"offset": 0.6, "color": "#ffffff"}, {"offset": 0.60625, "color": "#d9d9df"}, {"offset": 0.6125, "color": "#ffffff"}, {"offset": 0.61875, "color": "#d9d9df"},
          {"offset": 0.625, "color": "#ffffff"}, {"offset": 0.63125, "color": "#d9d9df"}, {"offset": 0.6375, "color": "#ffffff"}, {"offset": 0.64375, "color": "#d9d9df"},
          {"offset": 0.65, "color": "#ffffff"}, {"offset": 0.65625, "color": "#d9d9df"}, {"offset": 0.6625, "color": "#ffffff"}, {"offset": 0.66875, "color": "#d9d9df"},
          {"offset": 0.675, "color": "#ffffff"}, {"offset": 0.68125, "color": "#d9d9df"}, {"offset": 0.6875, "color": "#ffffff"}, {"offset": 0.69375, "color": "#d9d9df"},
          {"offset": 0.7, "color": "#ffffff"}, {"offset": 0.70625, "color": "#d9d9df"}, {"offset": 0.7125, "color": "#ffffff"}, {"offset": 0.71875, "color": "#d9d9df"},
          {"offset": 0.725, "color": "#ffffff"}, {"offset": 0.73125, "color": "#d9d9df"}, {"offset": 0.7375, "color": "#ffffff"}, {"offset": 0.74375, "color": "#d9d9df"},
          {"offset": 0.75, "color": "#ffffff"}, {"offset": 0.75625, "color": "#d9d9df"}, {"offset": 0.7625, "color": "#ffffff"}, {"offset": 0.76875, "color": "#d9d9df"},
          {"offset": 0.775, "color": "#ffffff"}, {"offset": 0.78125, "color": "#d9d9df"}, {"offset": 0.7875, "color": "#ffffff"}, {"offset": 0.79375, "color": "#d9d9df"},
          {"offset": 0.8, "color": "#ffffff"}, {"offset": 0.80625, "color": "#d9d9df"}, {"offset": 0.8125, "color": "#ffffff"}, {"offset": 0.81875, "color": "#d9d9df"},
          {"offset": 0.825, "color": "#ffffff"}, {"offset": 0.83125, "color": "#d9d9df"}, {"offset": 0.8375, "color": "#ffffff"}, {"offset": 0.84375, "color": "#d9d9df"},
          {"offset": 0.85, "color": "#ffffff"}, {"offset": 0.85625, "color": "#d9d9df"}, {"offset": 0.8625, "color": "#ffffff"}, {"offset": 0.86875, "color": "#d9d9df"},
          {"offset": 0.875, "color": "#ffffff"}, {"offset": 0.88125, "color": "#d9d9df"}, {"offset": 0.8875, "color": "#ffffff"}, {"offset": 0.89375, "color": "#d9d9df"},
          {"offset": 0.9, "color": "#ffffff"}, {"offset": 0.90625, "color": "#d9d9df"}, {"offset": 0.9125, "color": "#ffffff"}, {"offset": 0.91875, "color": "#d9d9df"},
          {"offset": 0.925, "color": "#ffffff"}, {"offset": 0.93125, "color": "#d9d9df"}, {"offset": 0.9375, "color": "#ffffff"}, {"offset": 0.94375, "color": "#d9d9df"},
          {"offset": 0.95, "color": "#ffffff"}, {"offset": 0.95625, "color": "#d9d9df"}, {"offset": 0.9625, "color": "#ffffff"}, {"offset": 0.96875, "color": "#d9d9df"},
          {"offset": 0.975, "color": "#ffffff"}, {"offset": 0.98125, "color": "#d9d9df"}, {"offset": 0.9875, "color": "#ffffff"}, {"offset": 0.99375, "color": "#d9d9df"},
          {"offset": 1, "color": "#ffffff"}]}},
         "encoding": {"x": {"field": "x1", "type": "quantitative", "scale": {"domain": [-2.857, 4.698], "nice": false, "zero": false}, "axis": null}, "x2": {"field": "x2"}, "y2": {"field": "v2"}}},
        {"data": {"values": [{"x1": -0.27, "x2": 4.286, "v": 10}]},
         "mark": {"type": "rule", "stroke": "#d3d3d3", "strokeWidth": 1.5},
         "encoding": {"x": {"field": "x1", "type": "quantitative", "scale": {"domain": [-2.857, 4.698], "nice": false, "zero": false}, "axis": null}, "x2": {"field": "x2"}}},
        {
          "data": {"values": [{"group": "NHE", "v": 17.11}, {"group": "LCE", "v": 13.57}, {"group": "CTRL", "v": 9.57}]},
          "mark": {"type": "bar"},
          "encoding": {
            "x": {"field": "group", "type": "nominal", "sort": ["NHE", "LCE", "CTRL"], "scale": {"range": [163, 450], "paddingInner": 0.3016, "paddingOuter": 0.9286, "align": 0.5},
                  "axis": {"title": "D", "labels": false, "ticks": false, "domain": false, "grid": false, "titleX": 44.3, "titleY": -11.3, "titleAlign": "left", "titleBaseline": "alphabetic", "titleFont": "Lato", "titleFontSize": 21, "titleFontWeight": "normal", "titleColor": "#000000"}},
            "y2": {"datum": 0},
            "color": {"field": "group", "type": "nominal", "scale": {"domain": ["NHE", "LCE", "CTRL"], "range": ["#3385c6", "#afb0b3", "#45a5da"]},
                      "legend": {"orient": "none", "legendX": 107, "legendY": 302, "direction": "horizontal", "title": null, "symbolType": "square", "symbolSize": 289, "symbolStrokeWidth": 0, "labelFont": "Lato", "labelFontSize": 24, "labelColor": "#595959", "labelOffset": 5.5, "columnPadding": 16, "padding": 0}}
          }
        },
        {
          "data": {"values": [{"x1": 0.989, "x2": 3.338, "xm": 2.163, "v": 19.31, "vEnd": 18.86, "vTop": 19.82}, {"x1": 1.005, "x2": 2.132, "xm": 1.567, "v": 17.49, "vEnd": 17.07, "vTop": 17.99}, {"x1": 2.19, "x2": 3.313, "xm": 2.757, "v": 14.59, "vEnd": 14.22, "vTop": 15.05}]},
          "layer": [
            {"mark": {"type": "rule", "stroke": "#f03434", "strokeWidth": 1.3},
             "encoding": {"x": {"field": "x1", "type": "quantitative", "scale": {"domain": [-2.857, 4.698], "nice": false, "zero": false}, "axis": null}, "x2": {"field": "x2"}}},
            {"mark": {"type": "rule", "stroke": "#f03434", "strokeWidth": 1.3},
             "encoding": {"x": {"field": "x1", "type": "quantitative", "scale": {"domain": [-2.857, 4.698], "nice": false, "zero": false}, "axis": null}, "y2": {"field": "vEnd"}}},
            {"mark": {"type": "rule", "stroke": "#f03434", "strokeWidth": 1.3},
             "encoding": {"x": {"field": "x2", "type": "quantitative", "scale": {"domain": [-2.857, 4.698], "nice": false, "zero": false}, "axis": null}, "y2": {"field": "vEnd"}}},
            {"mark": {"type": "rule", "stroke": "#f03434", "strokeWidth": 1.3},
             "encoding": {"x": {"field": "xm", "type": "quantitative", "scale": {"domain": [-2.857, 4.698], "nice": false, "zero": false}, "axis": null}, "y2": {"field": "vTop"}}}
          ]
        },
        {
          "data": {"values": [{"sx": 2.29, "v": 18.62, "label": "*"}, {"sx": 1.741, "v": 16.19, "label": "*"}, {"sx": 2.925, "v": 13.54, "label": "*"}]},
          "mark": {"type": "text", "font": "Liberation Sans", "fontSize": 30, "fill": "#ee2a2a", "align": "center", "baseline": "alphabetic"},
          "encoding": {"x": {"field": "sx", "type": "quantitative", "scale": {"domain": [-2.857, 4.698], "nice": false, "zero": false}, "axis": null}, "text": {"field": "label"}}
        }
      ]
    }
  ]
}
